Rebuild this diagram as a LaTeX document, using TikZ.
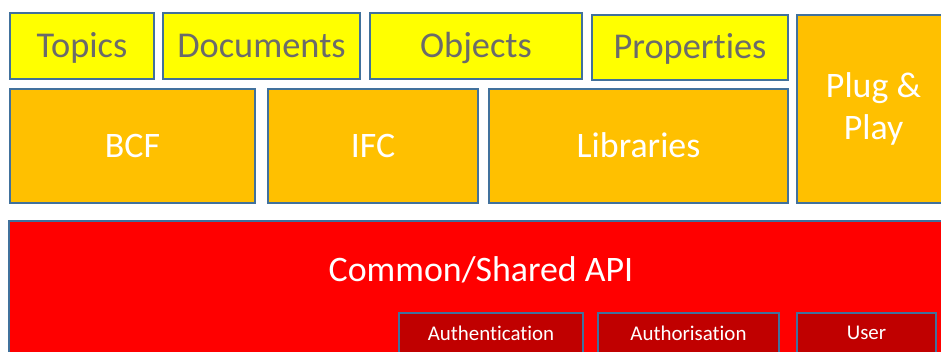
\documentclass[tikz,border=0pt]{standalone}
\usepackage{fontspec}
\setmainfont{Carlito}[Ligatures=NoCommon]
\definecolor{bordc}{HTML}{41719C}
\definecolor{ylw}{HTML}{FFFF00}
\definecolor{org}{HTML}{FFC000}
\definecolor{rd}{HTML}{FF0000}
\definecolor{drd}{HTML}{C00000}
\definecolor{gtxt}{HTML}{6B6B6B}
\tikzset{
  base/.style={draw=bordc, line width=1.3bp, inner sep=0pt, anchor=center},
  ybox/.style={base, fill=ylw, text=gtxt, font=\fontsize{36.5}{40}\selectfont, text height=22bp, text depth=0pt},
  obox/.style={base, fill=org, text=white, font=\fontsize{36}{40}\selectfont, align=center},
  rbox/.style={base, fill=rd},
  sbox/.style={base, fill=drd, text=white, font=\fontsize{21}{24}\selectfont},
}
\begin{document}
\begin{tikzpicture}[x=1bp,y=-1bp]
\useasboundingbox (0,0) rectangle (941,351);
\begin{scope}
\clip (0,0) rectangle (941,351);
\node[ybox, minimum width=144bp, minimum height=66bp] (topics) at (82,46) {Topics};
\node[ybox, minimum width=197bp, minimum height=66bp] (docs) at (261.5,46) {Documents};
\node[ybox, minimum width=212bp, minimum height=66bp] (objs) at (476,46) {Objects};
\node[ybox, minimum width=196bp, minimum height=65bp] (props) at (690,47.5) {Properties};
\node[obox, minimum width=245bp, minimum height=114bp, text height=22bp, text depth=0pt] (bcf) at (132.5,146) {BCF};
\node[obox, minimum width=210bp, minimum height=114bp, text height=22bp, text depth=0pt] (ifc) at (373,146) {IFC};
\node[obox, minimum width=299bp, minimum height=114bp, text height=22bp, text depth=0pt] (libs) at (638.5,146) {Libraries};
\node[obox, minimum width=153bp, minimum height=188bp, font=\fontsize{36}{43}\selectfont] (plug) at (873.5,109) {Plug \&\\Play};
\node[rbox, minimum width=951bp, minimum height=149bp] (api) at (484.5,295.5) {};
\node[text=white, font=\fontsize{36}{40}\selectfont, inner sep=0pt] (apil) at (481,270) {Common/Shared API};
\node[sbox, minimum width=184bp, minimum height=47bp] (auth) at (491,336.5) {\raisebox{7bp}{Authentication}};
\node[sbox, minimum width=181bp, minimum height=47bp] (authz) at (688.5,336.5) {\raisebox{7bp}{Authorisation}};
\node[sbox, minimum width=139bp, minimum height=47bp] (user) at (866.5,336.5) {\raisebox{7bp}{User}};
\end{scope}
\end{tikzpicture}
\end{document}
